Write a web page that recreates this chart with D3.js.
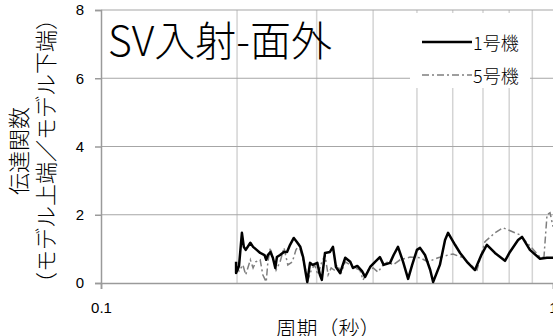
<!DOCTYPE html>
<html>
<head>
<meta charset="utf-8">
<script src="https://cdn.jsdelivr.net/npm/d3@7"></script>
<style>
  body { margin: 0; background: #fff; }
  svg { display: block; font-family: "Noto Sans CJK JP", "Noto Sans", sans-serif; font-weight: 300; }
</style>
</head>
<body>
<div id="chart"></div>
<script>
// series 1号機 : period (s), transfer ratio
const periods1 = [0.199,0.199,0.202,0.205,0.207,0.209,0.214,0.217,0.221,0.225,0.230,0.232,0.234,0.237,0.240,0.243,0.245,0.249,0.254,0.258,0.262,0.267,0.271,0.276,0.280,0.283,0.286,0.290,0.294,0.301,0.305,0.308,0.313,0.321,0.326,0.331,0.338,0.347,0.356,0.361,0.369,0.378,0.384,0.394,0.404,0.414,0.422,0.436,0.444,0.454,0.466,0.478,0.488,0.500,0.508,0.521,0.535,0.543,0.562,0.577,0.586,0.607,0.623,0.645,0.672,0.693,0.714,0.744,0.783,0.803,0.837,0.854,0.889,0.936,0.970,1.0];
const values1  = [0.62,0.29,0.50,1.47,1.06,0.97,1.18,1.06,0.97,0.88,0.82,0.68,0.82,0.91,0.74,0.44,0.76,0.82,0.91,0.91,1.12,1.32,1.21,1.06,0.76,0.38,0.03,0.59,0.53,0.59,0.24,0.09,0.88,0.91,1.06,0.47,0.29,0.74,0.62,0.44,0.50,0.35,0.18,0.47,0.62,0.76,0.53,0.59,0.82,1.06,0.62,0.12,0.53,0.97,1.03,0.82,0.38,0.03,0.53,1.26,1.47,1.12,0.88,0.62,0.38,0.80,1.12,0.88,0.65,0.91,1.26,1.35,0.97,0.71,0.74,0.74];
// series 5号機
const periods5 = [0.199,0.202,0.206,0.209,0.214,0.217,0.220,0.225,0.228,0.232,0.234,0.237,0.240,0.244,0.249,0.254,0.259,0.265,0.270,0.274,0.278,0.283,0.287,0.292,0.297,0.302,0.308,0.313,0.318,0.323,0.328,0.333,0.340,0.347,0.356,0.365,0.374,0.380,0.390,0.400,0.410,0.421,0.431,0.443,0.459,0.483,0.508,0.529,0.557,0.586,0.601,0.632,0.655,0.679,0.707,0.744,0.775,0.845,0.936,0.955,0.970,0.985,1.0];
const values5  = [0.53,0.35,0.53,0.24,0.68,0.44,0.62,0.68,0.24,0.03,0.62,1.03,0.74,0.38,0.62,1.03,0.53,0.62,0.97,1.12,0.82,0.44,0.09,0.38,0.53,0.24,0.62,0.82,0.24,0.44,0.38,0.53,0.30,0.62,0.53,0.44,0.38,0.09,0.38,0.44,0.32,0.53,0.62,0.53,0.68,0.76,0.74,0.62,0.74,0.82,0.85,0.74,0.55,0.38,1.21,1.47,1.62,1.41,0.76,0.76,2.0,2.06,1.65];

const yTicks = [0, 2, 4, 6, 8];
const xLabels = [0.1, 1];
const xGrid = [0.2, 0.3, 0.4, 0.5, 0.6, 0.7, 0.8, 0.9];
const seriesNames = ["1号機", "5号機"];
const chartTitle = "SV入射-面外";
const yTitle = ["伝達関数", "（モデル上端／モデル下端）"];
const xTitle = "周期（秒）";

const W = 553, H = 336;
const svg = d3.select("#chart").append("svg").attr("width", W).attr("height", H);

const x = d3.scaleLog().domain([0.1, 1]).range([101, 553]);
const y = d3.scaleLinear().domain([0, 8]).range([283, 10]);

// grid
svg.append("g").selectAll("line").data(xGrid).enter().append("line")
  .attr("x1", d => x(d)).attr("x2", d => x(d))
  .attr("y1", y(8)).attr("y2", y(0))
  .attr("stroke", "#d4d4d4").attr("stroke-width", 1.5);
svg.append("g").selectAll("line").data(yTicks.filter(d => d > 0)).enter().append("line")
  .attr("x1", x(0.1)).attr("x2", x(1))
  .attr("y1", d => y(d)).attr("y2", d => y(d))
  .attr("stroke", "#a6a6a6").attr("stroke-width", 1.2);

// axes
const yAxis = svg.append("g").attr("transform", `translate(${x(0.1)},0)`)
  .call(d3.axisLeft(y).tickValues(yTicks).tickSize(6).tickPadding(11));
const xAxis = svg.append("g").attr("transform", `translate(0,${y(0)})`)
  .call(d3.axisBottom(x).tickValues(xLabels).tickFormat(d3.format("")).tickSize(6).tickPadding(13));
[yAxis, xAxis].forEach(g => {
  g.selectAll("path, line").attr("stroke", "#9a9a9a").attr("stroke-width", 1.5);
  g.selectAll("text").attr("fill", "#000").style("font-size", "15px")
    .style("font-family", "'Liberation Sans', Arial, sans-serif");
});

// lines
const line = d3.line().x(d => x(d[0])).y(d => y(d[1]));
svg.append("path").datum(d3.zip(periods5, values5))
  .attr("d", line).attr("fill", "none")
  .attr("stroke", "#7f7f7f").attr("stroke-width", 1.5)
  .attr("stroke-dasharray", "7,3,2,3");
svg.append("path").datum(d3.zip(periods1, values1))
  .attr("d", line).attr("fill", "none")
  .attr("stroke", "#000").attr("stroke-width", 2.5)
  .attr("stroke-linejoin", "round");

// title
svg.append("text").attr("x", 108).attr("y", 56)
  .style("font-size", "41px").text(chartTitle);

// legend
const leg = svg.append("g");
leg.append("rect").attr("x", 410).attr("y", 13).attr("width", 120).attr("height", 75).attr("fill", "#fff");
const legStyles = [
  {stroke: "#000", width: 2.5, dash: null},
  {stroke: "#7f7f7f", width: 1.5, dash: "7,3,2,3"}
];
seriesNames.forEach((name, i) => {
  const ly = 42 + i * 33;
  leg.append("line").attr("x1", 422).attr("x2", 472).attr("y1", ly).attr("y2", ly)
    .attr("stroke", legStyles[i].stroke).attr("stroke-width", legStyles[i].width)
    .attr("stroke-dasharray", legStyles[i].dash);
  leg.append("text").attr("x", 473).attr("y", ly).attr("dominant-baseline", "central")
    .style("font-size", "18px").text(name);
});

// axis titles
yTitle.forEach((t, i) => {
  svg.append("text")
    .attr("transform", `translate(${17 + i * 27},151) rotate(-90)`)
    .attr("text-anchor", "middle").attr("dominant-baseline", "central")
    .style("font-size", "22px").text(t);
});
svg.append("text").attr("x", 328).attr("y", 327)
  .attr("text-anchor", "middle").attr("dominant-baseline", "central")
  .style("font-size", "21px").text(xTitle);
</script>
</body>
</html>
